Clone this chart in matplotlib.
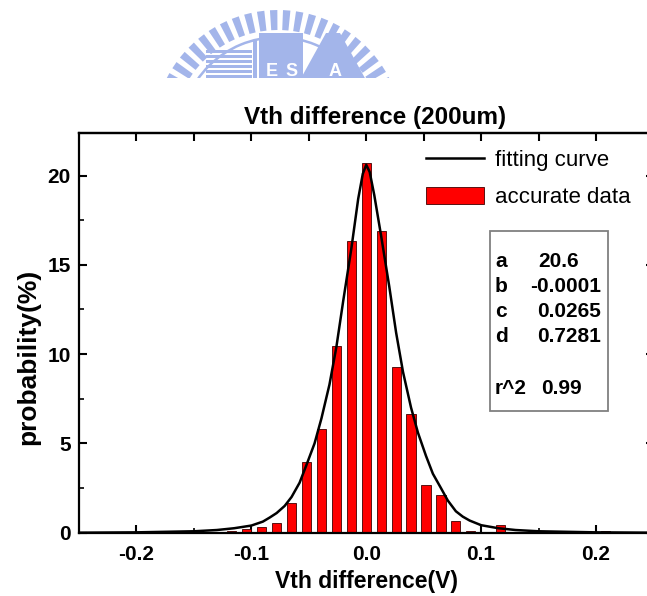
import numpy as np
import matplotlib
import matplotlib.pyplot as plt
from matplotlib.patches import Rectangle, Polygon, Wedge

matplotlib.use('Agg')

plt.rcParams['font.family'] = ['Liberation Sans', 'DejaVu Sans']

FIG_W, FIG_H = 647, 596

# histogram of the Vth difference (bin centre in V, probability in %)
bin_centers = [-0.156, -0.143, -0.130, -0.117, -0.104, -0.091, -0.078, -0.065,
               -0.052, -0.039, -0.026, -0.013, 0.000, 0.013, 0.026, 0.039,
               0.052, 0.065, 0.078, 0.091, 0.104, 0.117, 0.130, 0.143,
               0.156, 0.208]
probability = [0.04, 0.05, 0.05, 0.10, 0.20, 0.30, 0.56, 1.68,
               3.97, 5.80, 10.45, 16.35, 20.70, 16.90, 9.30, 6.65,
               2.68, 2.10, 0.65, 0.10, 0.05, 0.45, 0.05, 0.05,
               0.03, 0.12]

# fitting curve
curve_x = [-0.25, -0.20, -0.15, -0.13, -0.115, -0.10, -0.09, -0.084, -0.078,
           -0.071, -0.065, -0.058, -0.052, -0.045, -0.039, -0.032, -0.026,
           -0.020, -0.013, -0.007, -0.003, 0.000, 0.003, 0.007, 0.013, 0.020,
           0.026, 0.032, 0.039, 0.045, 0.052, 0.058, 0.065, 0.071, 0.078,
           0.084, 0.09, 0.10, 0.115, 0.13, 0.15, 0.20, 0.25]
curve_y = [0.00, 0.02, 0.08, 0.15, 0.25, 0.40, 0.62, 0.85, 1.10,
           1.50, 2.00, 2.80, 3.80, 5.00, 6.40, 8.30, 10.40,
           13.00, 15.90, 18.70, 20.10, 20.60, 20.20, 18.90, 16.60, 13.80,
           11.20, 9.00, 7.00, 5.60, 4.30, 3.30, 2.50, 1.80, 1.20,
           0.90, 0.68, 0.42, 0.25, 0.15, 0.08, 0.02, 0.00]

fit_names = ['a', 'b', 'c', 'd']
fit_values = ['20.6', '-0.0001', '0.0265', '0.7281']
r2_value = '0.99'


def fx(px):
    return px / FIG_W


def fy(py):
    return 1 - py / FIG_H


def draw_logo(fig, cx=278, cy=135, r_out=125):
    # faded university seal on top, cut off at its lower part
    logo = fig.add_axes([0, 0, 1, 1], zorder=-1)
    logo.set_xlim(0, FIG_W)
    logo.set_ylim(FIG_H, 0)
    logo.axis('off')
    blue = '#a3b5ea'
    clip = Rectangle((0, 0), FIG_W, 78, transform=logo.transData)

    patches = []
    for ang in np.arange(8, 173, 6.0):
        t = np.radians(ang)
        dt = np.radians(1.7)
        r_in = r_out - 20
        pts = [(cx + r_in * np.cos(t - dt), cy - r_in * np.sin(t - dt)),
               (cx + r_out * np.cos(t - dt), cy - r_out * np.sin(t - dt)),
               (cx + r_out * np.cos(t + dt), cy - r_out * np.sin(t + dt)),
               (cx + r_in * np.cos(t + dt), cy - r_in * np.sin(t + dt))]
        patches.append(Polygon(pts, closed=True, color=blue, lw=0))
    patches.append(Wedge((cx, cy), r_out - 26, 0, 360, width=2.5, color=blue, lw=0))

    # stacked blocks inside the ring
    for i in range(6):
        patches.append(Rectangle((cx - 72, 50 + i * 5), 46, 3.2, color=blue, lw=0))
    patches.append(Rectangle((cx - 25, 40), 4, 40, color=blue, lw=0))
    patches.append(Rectangle((cx - 19, 33), 44, 50, color=blue, lw=0))
    patches.append(Polygon([(cx + 22, 80), (cx + 48, 33), (cx + 62, 33),
                            (cx + 88, 80)], closed=True, color=blue, lw=0))
    for p in patches:
        logo.add_patch(p)
        p.set_clip_path(clip)
    for ch, x in zip(['E', 'S', 'A'], [cx - 6, cx + 14, cx + 57]):
        t = logo.text(x, 72, ch, color='white', fontsize=13, fontweight='bold',
                      ha='center', va='center')
        t.set_clip_path(clip)


fig = plt.figure(figsize=(FIG_W / 100, FIG_H / 100), dpi=100)
draw_logo(fig)

ax = fig.add_axes([fx(79), fy(532.7), fx(653.5 - 79), (532.7 - 132.7) / FIG_H])

ax.bar(bin_centers, probability, width=0.008, color='#ff0000',
       edgecolor='#400000', linewidth=0.6, label='accurate data', zorder=2)
ax.plot(curve_x, curve_y, color='black', lw=1.8, label='fitting curve', zorder=3)

ax.set_xlim(-0.25, 0.25)
ax.set_ylim(0, 22.4)
ax.set_xticks([-0.2, -0.1, 0.0, 0.1, 0.2])
ax.set_xticks([-0.15, -0.05, 0.05, 0.15], minor=True)
ax.set_yticks([0, 5, 10, 15, 20])
ax.set_yticks([2.5, 7.5, 12.5, 17.5], minor=True)
ax.set_xticklabels(['-0.2', '-0.1', '0.0', '0.1', '0.2'])

ax.tick_params(which='major', direction='in', length=6, width=1.5,
               labelsize=15, pad=6, right=True)
ax.tick_params(axis='x', which='major', pad=9)
ax.tick_params(which='minor', direction='in', length=3.5, width=1.2, right=True)
for lab in ax.get_xticklabels() + ax.get_yticklabels():
    lab.set_fontweight('bold')
for sp in ax.spines.values():
    sp.set_linewidth(1.6)

top = ax.secondary_xaxis('top')
top.set_xticks([-0.2, -0.15, -0.1, -0.05, 0.0, 0.05, 0.1, 0.15, 0.2])
top.tick_params(direction='in', length=6, width=1.5, labeltop=False)
top.spines['top'].set_linewidth(1.6)

ax.set_title('Vth difference (200um)', fontsize=17.5, fontweight='bold',
             pad=6, x=0.515)
ax.set_xlabel('Vth difference(V)', fontsize=16.5, fontweight='bold', labelpad=4)
ax.set_ylabel('probability(%)', fontsize=19, fontweight='bold')
ax.yaxis.set_label_coords(-0.068, 0.44)

handles, labels = ax.get_legend_handles_labels()
ax.legend(handles, labels, loc='upper left',
          bbox_to_anchor=(fx(426), fy(150)), bbox_transform=fig.transFigure,
          frameon=False, fontsize=16, borderpad=0, borderaxespad=0,
          handlelength=2.6, handleheight=0.8, handletextpad=0.5,
          labelspacing=0.7)

# box with the fitted parameters
fig.patches.append(Rectangle((fx(490), fy(411)), fx(608 - 490), (411 - 231) / FIG_H,
                             transform=fig.transFigure, fill=False,
                             edgecolor='#808080', lw=1.3))
rows_y = [261.7, 286.7, 311.7, 336.7]
for name, val, y in zip(fit_names, fit_values, rows_y):
    fig.text(fx(495), fy(y), name, fontsize=15, fontweight='bold', va='center')
    if val == '20.6':
        fig.text(fx(538), fy(y), val, fontsize=15, fontweight='bold', va='center')
    else:
        fig.text(fx(601), fy(y), val, fontsize=15, fontweight='bold',
                 va='center', ha='right')
fig.text(fx(495), fy(388), 'r^2', fontsize=15, fontweight='bold', va='center')
fig.text(fx(541), fy(388), r2_value, fontsize=15, fontweight='bold', va='center')

fig.savefig('out.png', dpi=100)
